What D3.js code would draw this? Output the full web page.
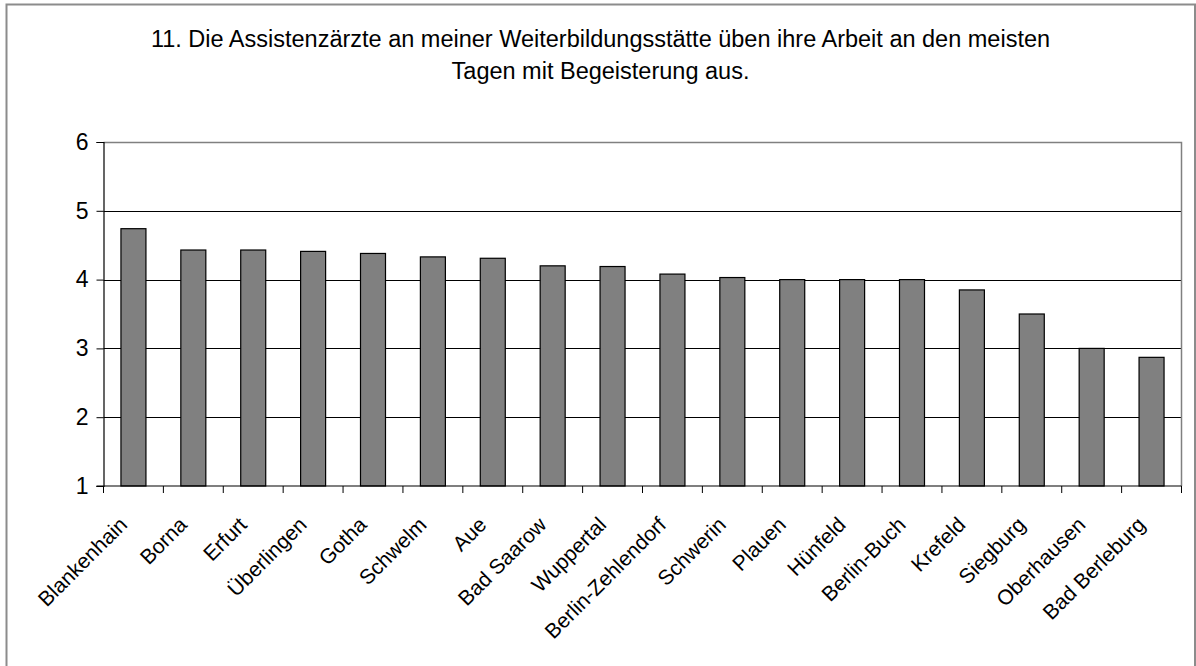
<!DOCTYPE html>
<html>
<head>
<meta charset="utf-8">
<script src="https://cdn.jsdelivr.net/npm/d3@7.9.0/dist/d3.min.js"></script>
<style>
	html, body { margin: 0; padding: 0; background: #fff; }
	svg { display: block; font-family: Arial, 'Liberation Sans', sans-serif; }
</style>
</head>
<body>
<svg id="chart" width="1196" height="666"></svg>
<script>
const titleLines = [
	'11. Die Assistenzärzte an meiner Weiterbildungsstätte üben ihre Arbeit an den meisten',
	'Tagen mit Begeisterung aus.',
];
const clinics = [
	'Blankenhain', 'Borna', 'Erfurt', 'Überlingen', 'Gotha', 'Schwelm', 'Aue',
	'Bad Saarow', 'Wuppertal', 'Berlin-Zehlendorf', 'Schwerin', 'Plauen', 'Hünfeld',
	'Berlin-Buch', 'Krefeld', 'Siegburg', 'Oberhausen', 'Bad Berleburg',
];
const scores = [
	4.74, 4.43, 4.43, 4.41, 4.38, 4.33, 4.31,
	4.20, 4.19, 4.08, 4.03, 4.00, 4.00,
	4.00, 3.85, 3.50, 3.00, 2.87,
];
const yTicks = [1, 2, 3, 4, 5, 6];

const svg = d3.select('#chart');

// outer chart frame
svg.append('rect')
	.attr('x', 6.5).attr('y', 4.5)
	.attr('width', 1188.5).attr('height', 680)
	.attr('fill', 'none').attr('stroke', '#8c8c8c').attr('stroke-width', 2);

// title
svg.append('g')
	.selectAll('text')
	.data(titleLines)
	.join('text')
	.attr('x', 600.5)
	.attr('y', (d, i) => 46.7 + i * 32.3)
	.attr('text-anchor', 'middle')
	.attr('font-size', 23.5)
	.attr('fill', '#000')
	.text((d) => d);

const plot = { left: 103.5, right: 1181.5, top: 142, bottom: 486 };

const x = d3.scaleBand().domain(clinics).range([plot.left, plot.right]).padding(0);
const y = d3.scaleLinear().domain([1, 6]).range([plot.bottom, plot.top]);

// gridlines
svg.append('g')
	.selectAll('line')
	.data(yTicks.filter((t) => t > 1 && t < 6))
	.join('line')
	.attr('x1', plot.left).attr('x2', plot.right)
	.attr('y1', (d) => Math.round(y(d)) + 0.5)
	.attr('y2', (d) => Math.round(y(d)) + 0.5)
	.attr('stroke', '#000').attr('stroke-width', 1);

// plot area border (top + right)
svg.append('path')
	.attr('d', `M${plot.left},${plot.top + 0.5}H${plot.right}V${plot.bottom}`)
	.attr('fill', 'none').attr('stroke', '#808080').attr('stroke-width', 1.5);

// bars
const barW = 25;
svg.append('g')
	.selectAll('rect')
	.data(clinics)
	.join('rect')
	.attr('x', (d) => x(d) + (x.bandwidth() - barW) / 2)
	.attr('y', (d, i) => y(scores[i]))
	.attr('width', barW)
	.attr('height', (d, i) => y(1) - y(scores[i]))
	.attr('fill', '#808080')
	.attr('stroke', '#000')
	.attr('stroke-width', 1.2);

// y axis
const yAxis = svg.append('g')
	.attr('transform', `translate(${plot.left},0)`)
	.call(d3.axisLeft(y).tickValues(yTicks).tickSize(7).tickPadding(8).tickFormat(d3.format('d')));
yAxis.select('.domain').attr('stroke', '#000').attr('stroke-width', 1.2);
yAxis.selectAll('.tick line').attr('stroke', '#000');
yAxis.selectAll('.tick text')
	.attr('font-size', 23)
	.attr('font-family', 'Arial, Liberation Sans, sans-serif')
	.attr('fill', '#000');

// x axis: line + ticks at category boundaries
const boundaries = clinics.map((d) => x(d)).concat([plot.right]);
const xAxis = svg.append('g');
xAxis.append('line')
	.attr('x1', plot.left - 7).attr('x2', plot.right)
	.attr('y1', plot.bottom).attr('y2', plot.bottom)
	.attr('stroke', '#000').attr('stroke-width', 1.2);
xAxis.selectAll('line.tick')
	.data(boundaries)
	.join('line')
	.attr('class', 'tick')
	.attr('x1', (d) => d).attr('x2', (d) => d)
	.attr('y1', plot.bottom).attr('y2', plot.bottom + 7)
	.attr('stroke', '#000').attr('stroke-width', 1);

// rotated category labels
xAxis.selectAll('text')
	.data(clinics)
	.join('text')
	.attr('transform', (d) => `translate(${x(d) + x.bandwidth() / 2 - 5},${plot.bottom + 40}) rotate(-45)`)
	.attr('text-anchor', 'end')
	.attr('font-size', 21)
	.attr('fill', '#000')
	.text((d) => d);
</script>
</body>
</html>
